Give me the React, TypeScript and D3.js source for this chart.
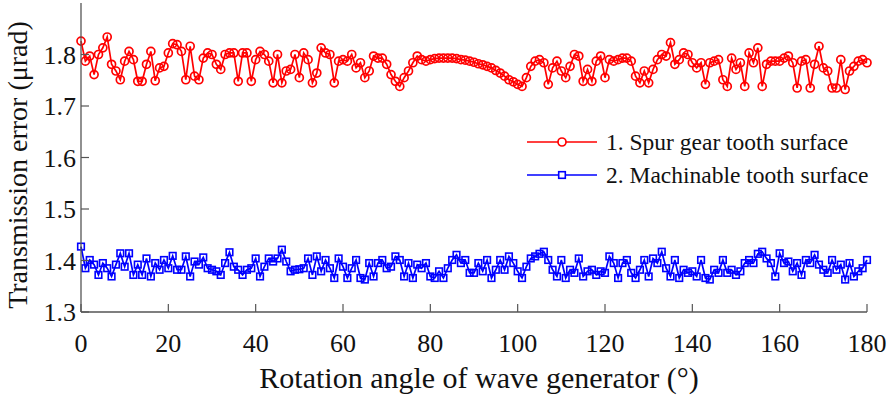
import * as d3 from 'd3'

// rotation angle of wave generator (deg), one sample per degree
const angles: number[] = d3.range(0, 181)

// 1. Spur gear tooth surface
const spurError: number[] = [
  1.826, 1.787, 1.797, 1.761, 1.800, 1.813, 1.834, 1.781, 1.768, 1.751,
  1.787, 1.806, 1.790, 1.748, 1.748, 1.781, 1.806, 1.749, 1.774, 1.777,
  1.803, 1.821, 1.819, 1.806, 1.751, 1.816, 1.758, 1.751, 1.793, 1.803,
  1.800, 1.781, 1.771, 1.800, 1.803, 1.803, 1.748, 1.803, 1.803, 1.748,
  1.790, 1.806, 1.800, 1.787, 1.745, 1.800, 1.745, 1.768, 1.771, 1.800,
  1.755, 1.803, 1.790, 1.745, 1.764, 1.813, 1.803, 1.800, 1.745, 1.787,
  1.790, 1.787, 1.800, 1.774, 1.784, 1.755, 1.768, 1.797, 1.793, 1.793,
  1.781, 1.761, 1.748, 1.738, 1.755, 1.768, 1.784, 1.797, 1.790, 1.787,
  1.790, 1.792, 1.793, 1.793, 1.793, 1.793, 1.792, 1.790, 1.789, 1.787,
  1.785, 1.782, 1.780, 1.777, 1.774, 1.769, 1.764, 1.758, 1.751, 1.747,
  1.742, 1.738, 1.755, 1.777, 1.787, 1.790, 1.784, 1.742, 1.774, 1.787,
  1.768, 1.755, 1.777, 1.800, 1.797, 1.748, 1.771, 1.748, 1.787, 1.797,
  1.755, 1.790, 1.787, 1.790, 1.793, 1.793, 1.787, 1.758, 1.745, 1.768,
  1.745, 1.771, 1.790, 1.800, 1.797, 1.823, 1.781, 1.790, 1.803, 1.800,
  1.784, 1.774, 1.784, 1.742, 1.784, 1.787, 1.790, 1.751, 1.738, 1.793,
  1.771, 1.784, 1.738, 1.803, 1.784, 1.813, 1.738, 1.781, 1.787, 1.787,
  1.787, 1.793, 1.797, 1.784, 1.735, 1.787, 1.790, 1.735, 1.781, 1.816,
  1.774, 1.768, 1.735, 1.735, 1.790, 1.732, 1.768, 1.777, 1.787, 1.790,
  1.784,
]

// 2. Machinable tooth surface
const machError: number[] = [
  1.427, 1.385, 1.401, 1.392, 1.372, 1.395, 1.385, 1.369, 1.392, 1.414,
  1.388, 1.414, 1.372, 1.392, 1.372, 1.404, 1.369, 1.395, 1.382, 1.401,
  1.385, 1.409, 1.382, 1.382, 1.408, 1.369, 1.398, 1.392, 1.406, 1.385,
  1.382, 1.379, 1.372, 1.395, 1.416, 1.388, 1.382, 1.372, 1.382, 1.385,
  1.404, 1.369, 1.388, 1.404, 1.398, 1.404, 1.421, 1.398, 1.379, 1.382,
  1.383, 1.385, 1.404, 1.372, 1.408, 1.379, 1.401, 1.385, 1.366, 1.404,
  1.388, 1.366, 1.385, 1.401, 1.366, 1.363, 1.395, 1.369, 1.395, 1.401,
  1.385, 1.388, 1.408, 1.401, 1.369, 1.395, 1.366, 1.392, 1.385, 1.395,
  1.369, 1.366, 1.379, 1.366, 1.385, 1.401, 1.411, 1.395, 1.401, 1.376,
  1.376, 1.395, 1.379, 1.401, 1.366, 1.382, 1.401, 1.382, 1.408, 1.395,
  1.379, 1.366, 1.388, 1.404, 1.408, 1.413, 1.417, 1.401, 1.382, 1.369,
  1.401, 1.366, 1.382, 1.376, 1.404, 1.369, 1.379, 1.382, 1.372, 1.379,
  1.376, 1.408, 1.395, 1.366, 1.395, 1.401, 1.376, 1.366, 1.382, 1.401,
  1.369, 1.404, 1.395, 1.417, 1.385, 1.369, 1.401, 1.366, 1.382, 1.376,
  1.379, 1.369, 1.401, 1.366, 1.363, 1.382, 1.376, 1.401, 1.376, 1.382,
  1.372, 1.379, 1.395, 1.401, 1.395, 1.413, 1.417, 1.404, 1.395, 1.369,
  1.414, 1.395, 1.398, 1.379, 1.395, 1.372, 1.401, 1.395, 1.411, 1.392,
  1.382, 1.376, 1.401, 1.382, 1.392, 1.363, 1.395, 1.369, 1.379, 1.385,
  1.401,
]

const xTicks = [0, 20, 40, 60, 80, 100, 120, 140, 160, 180]
const yTicks = [1.3, 1.4, 1.5, 1.6, 1.7, 1.8]
const legendLabels = ['1. Spur gear tooth surface', '2. Machinable tooth surface']

const width = 895
const height = 396
const font = "'Liberation Serif', 'DejaVu Serif', serif"

export default function App() {
  const x = d3.scaleLinear().domain([0, 180]).range([81, 867])
  const y = d3.scaleLinear().domain([1.3, 1.9]).range([312, 3])

  const line = d3.line<number>()
    .x((_, i) => x(angles[i]))
    .y(d => y(d))

  const axisColor = '#555'
  const txt = { fontFamily: font, fill: '#111' }

  return (
    <svg width={width} height={height} style={{ position: 'absolute', left: 0, top: 0, background: '#fff' }}>
      {/* series 2 (blue squares) */}
      <path d={line(machError) || ''} fill="none" stroke="#0000ff" strokeWidth={1.7} />
      {machError.map((v, i) => (
        <rect key={'b' + i} x={x(angles[i]) - 3.3} y={y(v) - 3.3} width={6.6} height={6.6}
          fill="none" stroke="#0000ff" strokeWidth={1.6} />
      ))}

      {/* series 1 (red circles) */}
      <path d={line(spurError) || ''} fill="none" stroke="#ff0000" strokeWidth={1.7} />
      {spurError.map((v, i) => (
        <circle key={'r' + i} cx={x(angles[i])} cy={y(v)} r={4}
          fill="none" stroke="#ff0000" strokeWidth={1.7} />
      ))}

      {/* axes */}
      <line x1={x(0)} x2={x(0)} y1={3} y2={y(1.3)} stroke={axisColor} strokeWidth={1.3} />
      <line x1={x(0)} x2={x(180)} y1={y(1.3)} y2={y(1.3)} stroke={axisColor} strokeWidth={1.3} />

      {yTicks.map(t => (
        <g key={'yt' + t}>
          <line x1={x(0)} x2={x(0) + 8} y1={y(t)} y2={y(t)} stroke={axisColor} strokeWidth={1.2} />
          <text x={x(0) - 5} y={y(t)} dy="0.35em" textAnchor="end" fontSize={26} style={txt}>
            {t.toFixed(1)}
          </text>
        </g>
      ))}

      {xTicks.map(t => (
        <g key={'xt' + t}>
          <line x1={x(t)} x2={x(t)} y1={y(1.3)} y2={y(1.3) - 8} stroke={axisColor} strokeWidth={1.2} />
          <text x={x(t)} y={352} textAnchor="middle" fontSize={26} style={txt}>{t}</text>
        </g>
      ))}

      <text x={479} y={388} textAnchor="middle" fontSize={30} style={txt}>
        Rotation angle of wave generator (°)
      </text>
      <text transform="translate(27,165) rotate(-90)" textAnchor="middle" fontSize={28} style={txt}>
        Transmission error (μrad)
      </text>

      {/* legend */}
      {legendLabels.map((label, i) => {
        const ly = 142 + i * 33
        const color = i === 0 ? '#ff0000' : '#0000ff'
        return (
          <g key={label}>
            <line x1={527} x2={597} y1={ly} y2={ly} stroke={color} strokeWidth={1.7} />
            {i === 0
              ? <circle cx={562} cy={ly} r={4} fill="#fff" stroke={color} strokeWidth={1.7} />
              : <rect x={558.7} y={ly - 3.3} width={6.6} height={6.6} fill="#fff" stroke={color} strokeWidth={1.6} />}
            <text x={606} y={ly} dy="0.35em" fontSize={23.5} style={txt}>{label}</text>
          </g>
        )
      })}
    </svg>
  )
}
